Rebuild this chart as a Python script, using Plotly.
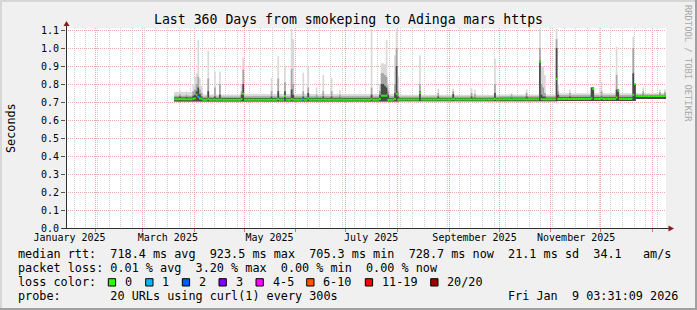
import datetime as dt
import plotly.graph_objects as go

# ---------------- data ----------------
range_start = "2025-01-14 03:31:09"
range_end = "2026-01-09 03:31:09"
data_first_day = "2025-03-20"
data_last_day = "2026-01-09"

# baseline smoke / median levels (seconds), each valid from its start date
seg_start = ["2025-03-20", "2025-04-06", "2025-05-01", "2025-08-02", "2025-10-01", "2025-11-05", "2025-12-22"]
seg_med   = [0.715, 0.713, 0.713, 0.714, 0.715, 0.717, 0.733]
seg_lo    = [0.703, 0.703, 0.703, 0.704, 0.704, 0.706, 0.716]
seg_dark  = [0.725, 0.722, 0.722, 0.722, 0.724, 0.727, 0.738]
seg_mid   = [0.735, 0.730, 0.732, 0.730, 0.732, 0.737, 0.742]
seg_light = [0.755, 0.742, 0.745, 0.740, 0.742, 0.748, 0.748]

# days that deviate from the baseline
spike_dates = ["2025-03-23", "2025-03-27", "2025-03-31", "2025-04-01", "2025-04-02", "2025-04-03",
               "2025-04-04", "2025-04-05", "2025-04-09", "2025-04-13", "2025-04-16", "2025-04-29",
               "2025-04-30", "2025-05-17", "2025-05-21", "2025-05-25", "2025-05-29", "2025-05-30",
               "2025-06-05", "2025-06-08", "2025-06-13", "2025-06-17", "2025-06-22", "2025-06-27",
               "2025-07-16", "2025-07-21", "2025-07-22", "2025-07-23", "2025-07-24", "2025-07-25",
               "2025-07-26", "2025-07-30", "2025-07-31", "2025-08-01", "2025-08-14", "2025-08-25",
               "2025-09-03", "2025-09-14", "2025-09-16", "2025-09-28", "2025-10-08", "2025-10-17",
               "2025-10-25", "2025-10-26", "2025-10-27", "2025-10-28", "2025-11-04", "2025-11-05",
               "2025-11-12", "2025-11-25", "2025-11-26", "2025-12-01", "2025-12-10", "2025-12-11",
               "2025-12-20", "2025-12-21", "2025-12-26", "2026-01-05", "2026-01-08"]
spike_med = [0.716, 0.715, 0.718, 0.720, 0.740, 0.728,
             0.720, 0.718, 0.718, 0.714, 0.714, 0.716,
             0.746, 0.714, 0.716, 0.733, 0.716, 0.714,
             0.714, 0.720, 0.714, 0.714, 0.714, 0.714,
             0.716, 0.716, 0.735, 0.735, 0.735, 0.735,
             0.712, 0.716, 0.745, 0.713, 0.750, 0.714,
             0.716, 0.714, 0.714, 0.716, 0.714, 0.714,
             0.924, 0.716, 0.715, 0.715, 0.828, 0.717,
             0.717, 0.720, 0.772, 0.720, 0.725, 0.763,
             0.740, 0.800, 0.733, 0.733, 0.733]
spike_dark = [0.730, 0.728, 0.735, 0.740, 0.760, 0.780,
              0.745, 0.730, 0.760, 0.730, 0.740, 0.740,
              0.800, 0.730, 0.760, 0.760, 0.770, 0.740,
              0.730, 0.750, 0.725, 0.730, 0.730, 0.725,
              0.740, 0.740, 0.800, 0.800, 0.790, 0.780,
              0.740, 0.750, 0.900, 0.730, 0.760, 0.730,
              0.745, 0.730, 0.725, 0.750, 0.725, 0.730,
              0.930, 0.740, 0.730, 0.730, 1.000, 0.740,
              0.730, 0.780, 0.780, 0.730, 0.770, 0.770,
              0.860, 0.800, 0.740, 0.740, 0.740]
spike_mid = [0.745, 0.740, 0.760, 0.770, 0.800, 0.840,
             0.770, 0.750, 0.830, 0.780, 0.800, 0.760,
             0.880, 0.760, 0.830, 0.810, 0.885, 0.800,
             0.760, 0.780, 0.740, 0.760, 0.760, 0.740,
             0.780, 0.760, 0.860, 0.860, 0.850, 0.840,
             0.760, 0.800, 1.000, 0.760, 0.800, 0.750,
             0.760, 0.750, 0.745, 0.800, 0.740, 0.750,
             1.000, 0.800, 0.780, 0.750, 1.050, 0.760,
             0.750, 0.780, 0.780, 0.760, 0.850, 0.770,
             1.000, 0.800, 0.760, 0.755, 0.755]
spike_light = [0.765, 0.760, 0.800, 0.840, 0.860, 1.045,
               0.830, 0.790, 0.983, 0.870, 0.870, 0.800,
               0.950, 0.833, 0.954, 0.903, 1.107, 1.050,
               0.863, 0.898, 0.780, 0.850, 0.833, 0.765,
               1.107, 0.800, 0.915, 0.915, 0.910, 1.044,
               0.800, 0.960, 1.107, 0.840, 0.960, 0.774,
               0.775, 0.775, 0.770, 0.940, 0.750, 0.770,
               1.107, 0.900, 0.900, 0.850, 1.107, 0.800,
               0.770, 0.785, 0.785, 0.813, 1.007, 0.770,
               1.063, 0.800, 0.780, 0.770, 0.770]

loss_dates = ["2025-04-03", "2025-06-05"]

month_label_dates = ["2025-01-16 06:00", "2025-03-16 06:00", "2025-05-16 06:00",
                     "2025-07-16 06:00", "2025-09-16 06:00", "2025-11-16 06:00"]
month_labels = ["January 2025", "March 2025", "May 2025", "July 2025", "September 2025", "November 2025"]

y_ticks = [0.0, 0.1, 0.2, 0.3, 0.4, 0.5, 0.6, 0.7, 0.8, 0.9, 1.0, 1.1]

loss_labels = ["0", "1", "2", "3", "4-5", "6-10", "11-19", "20/20"]
loss_colors = ["#26ff00", "#00b8ff", "#0059ff", "#7e00ff", "#ff00ff", "#ff5500", "#ff0000", "#a10000"]

title_text = "Last 360 Days from smokeping to Adinga mars https"
legend_lines = [
    "median rtt:  718.4 ms avg  923.5 ms max  705.3 ms min  728.7 ms now  21.1 ms sd  34.1   am/s",
    "packet loss: 0.01 % avg  3.20 % max  0.00 % min  0.00 % now",
    "loss color:",
    "probe:       20 URLs using curl(1) every 300s",
]
stamp_text = "Fri Jan  9 03:31:09 2026"
watermark = "RRDTOOL / TOBI OETIKER"

# ---------------- build daily series ----------------
d0 = dt.date.fromisoformat(data_first_day)
d1 = dt.date.fromisoformat(data_last_day)
days = []
d = d0
while d <= d1:
    days.append(d)
    d += dt.timedelta(days=1)

seg_dates = [dt.date.fromisoformat(s) for s in seg_start]
spike_idx = {s: i for i, s in enumerate(spike_dates)}

med, lo, dark, mid, light = [], [], [], [], []
for day in days:
    k = max(i for i, sd in enumerate(seg_dates) if sd <= day)
    key = day.isoformat()
    lo.append(seg_lo[k])
    if key in spike_idx:
        j = spike_idx[key]
        med.append(spike_med[j]); dark.append(spike_dark[j])
        mid.append(spike_mid[j]); light.append(spike_light[j])
    else:
        med.append(seg_med[k]); dark.append(seg_dark[k])
        mid.append(seg_mid[k]); light.append(seg_light[k])

edges = [x.isoformat() for x in days] + [range_end]
ends = [x.isoformat() for x in days[1:]] + [range_end]

def stepped(vals):
    return vals + [vals[-1]]

fig = go.Figure()

layer_colors = [("#d9d9d9", light), ("#a6a6a6", mid), ("#4a4a4a", dark)]
for col, vals in layer_colors:
    fig.add_trace(go.Scatter(x=edges, y=stepped(lo), mode="lines", line=dict(width=0, shape="hv"),
                             hoverinfo="skip", showlegend=False))
    fig.add_trace(go.Scatter(x=edges, y=stepped(vals), mode="lines", line=dict(width=0, shape="hv"),
                             fill="tonexty", fillcolor=col, hoverinfo="skip", showlegend=False))

# median: horizontal pieces, colour by loss
mx, my, bx, by = [], [], [], []
for day, e, m in zip(days, ends, med):
    key = day.isoformat()
    if key in loss_dates:
        bx += [key, e, None]; by += [m, m, None]
    else:
        mx += [key, e, None]; my += [m, m, None]
fig.add_trace(go.Scatter(x=mx, y=my, mode="lines", line=dict(color=loss_colors[0], width=2),
                         hoverinfo="skip", showlegend=False, connectgaps=False))
fig.add_trace(go.Scatter(x=bx, y=by, mode="lines", line=dict(color=loss_colors[1], width=2),
                         hoverinfo="skip", showlegend=False, connectgaps=False))

# dummy trace for label axis
fig.add_trace(go.Scatter(x=[range_start], y=[0], xaxis="x2", mode="markers",
                         marker=dict(opacity=0), hoverinfo="skip", showlegend=False))

# ---------------- layout ----------------
L, T, W, H = 66, 28, 600, 200
FIG_W, FIG_H = 697, 310

def px(x):
    return (x - L) / W

def py(y):
    return (T + H - y) / H

MONO = "DejaVu Sans Mono"
red_grid = "#f0a8a8"
gray_grid = "#cdcdcd"

fig.update_layout(
    width=FIG_W, height=FIG_H,
    margin=dict(l=L, r=FIG_W - L - W, t=T, b=FIG_H - T - H, autoexpand=False),
    paper_bgcolor="#f0f0f0", plot_bgcolor="#ffffff",
    showlegend=False,
    title=dict(text=title_text, x=0.5, xanchor="center", y=1 - 19 / FIG_H, yanchor="middle",
               xref="container", yref="container", font=dict(family=MONO, size=13.2, color="#000")),
    xaxis=dict(type="date", range=[range_start, range_end], tickmode="linear", tick0="2025-01-01",
               dtick="M1", showticklabels=False, showgrid=True, gridcolor=red_grid,
               griddash="1px,1px", gridwidth=1, ticks="outside", ticklen=3, tickcolor="#e07070",
               zeroline=False, showline=False,
               minor=dict(dtick=7 * 86400000, tick0="2025-01-05", showgrid=True,
                          gridcolor=gray_grid, griddash="1px,1px", ticks="")),
    xaxis2=dict(type="date", range=[range_start, range_end], overlaying="x", anchor="y", side="bottom",
                tickmode="array", tickvals=month_label_dates, ticktext=month_labels, showgrid=False,
                ticks="", ticklabelstandoff=2, zeroline=False, showline=False,
                tickfont=dict(family=MONO, size=10, color="#000")),
    yaxis=dict(range=[0, 200 / 180], tickmode="array", tickvals=y_ticks,
               ticktext=["%.1f" % v for v in y_ticks], showgrid=True, gridcolor=red_grid,
               griddash="1px,1px", ticks="outside", ticklen=4, tickcolor="#555",
               zeroline=False, showline=False, tickfont=dict(family=MONO, size=10, color="#000")),
)

shapes = []
# image frame shading
shapes.append(dict(type="rect", xref="paper", yref="paper", x0=px(0), x1=px(FIG_W), y0=py(2), y1=py(0),
                   fillcolor="#d6d6d6", line=dict(width=0), layer="below"))
shapes.append(dict(type="rect", xref="paper", yref="paper", x0=px(0), x1=px(2), y0=py(FIG_H), y1=py(0),
                   fillcolor="#d6d6d6", line=dict(width=0), layer="below"))
shapes.append(dict(type="rect", xref="paper", yref="paper", x0=px(0), x1=px(FIG_W), y0=py(FIG_H), y1=py(FIG_H - 2),
                   fillcolor="#a0a0a0", line=dict(width=0), layer="below"))
shapes.append(dict(type="rect", xref="paper", yref="paper", x0=px(FIG_W - 2), x1=px(FIG_W), y0=py(FIG_H), y1=py(0),
                   fillcolor="#a0a0a0", line=dict(width=0), layer="below"))
# axis lines
shapes.append(dict(type="line", xref="paper", yref="paper", x0=px(66.5), x1=px(66.5), y0=py(228), y1=py(24),
                   line=dict(color="#303030", width=1)))
shapes.append(dict(type="line", xref="paper", yref="paper", x0=px(62), x1=px(670), y0=py(228.5), y1=py(228.5),
                   line=dict(color="#303030", width=1)))
# arrows
arrow_col = "#8c1c1c"
shapes.append(dict(type="path", xref="paper", yref="paper",
                   path="M %f %f L %f %f L %f %f Z" % (px(66.5), py(21), px(63.5), py(26), px(69.5), py(26)),
                   fillcolor=arrow_col, line=dict(width=0)))
shapes.append(dict(type="path", xref="paper", yref="paper",
                   path="M %f %f L %f %f L %f %f Z" % (px(674), py(228.5), px(668.5), py(225.5), px(668.5), py(231.5)),
                   fillcolor=arrow_col, line=dict(width=0)))
# loss colour boxes
box_x = [108.3, 145.7, 182.3, 219.0, 256.0, 306.7, 365.3, 430.7]
for bxp, col in zip(box_x, loss_colors):
    shapes.append(dict(type="rect", xref="paper", yref="paper", x0=px(bxp), x1=px(bxp + 7.3),
                       y0=py(286), y1=py(278.7), fillcolor=col, line=dict(color="#000", width=1)))
fig.update_layout(shapes=shapes)

ann = []
LEG = 11.8
line_y = [254.3, 268.3, 282.3, 296.3]
for txt, yy in zip(legend_lines, line_y):
    ann.append(dict(text=txt.replace(" ", "\u00a0"), xref="paper", yref="paper", x=px(16), y=py(yy),
                    xanchor="left", yanchor="middle", showarrow=False,
                    font=dict(family=MONO, size=LEG, color="#000")))
for bxp, lab in zip(box_x, loss_labels):
    ann.append(dict(text=lab, xref="paper", yref="paper", x=px(bxp + 14.7), y=py(282.3),
                    xanchor="left", yanchor="middle", showarrow=False,
                    font=dict(family=MONO, size=LEG, color="#000")))
ann.append(dict(text=stamp_text.replace(" ", "\u00a0"), xref="paper", yref="paper", x=px(680), y=py(296.3),
                xanchor="right", yanchor="middle", showarrow=False,
                font=dict(family=MONO, size=LEG, color="#000")))
ann.append(dict(text="Seconds", xref="paper", yref="paper", x=px(11), y=py(128), textangle=-90,
                xanchor="center", yanchor="middle", showarrow=False,
                font=dict(family=MONO, size=LEG, color="#000")))
ann.append(dict(text=watermark, xref="paper", yref="paper", x=px(688), y=py(63), textangle=90,
                xanchor="center", yanchor="middle", showarrow=False,
                font=dict(family=MONO, size=8.8, color="#a8a8a8")))
fig.update_layout(annotations=ann)

fig.write_html("out.html")
